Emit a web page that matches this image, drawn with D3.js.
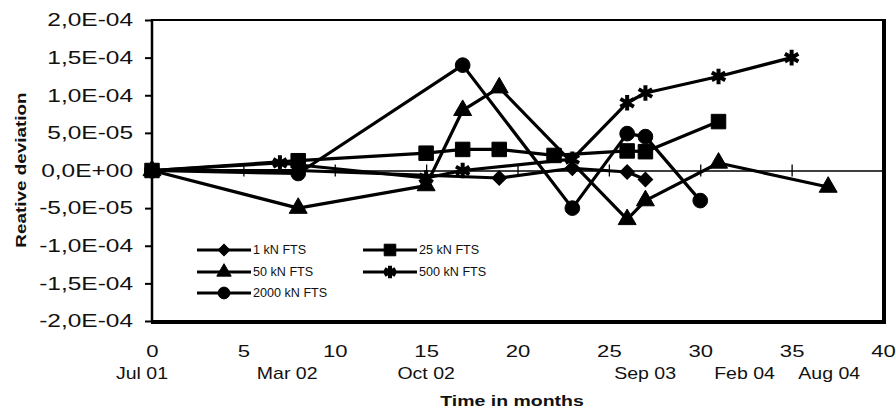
<!DOCTYPE html>
<html>
<head>
<meta charset="utf-8">
<script src="https://cdn.jsdelivr.net/npm/d3@7"></script>
<style>
  body { margin: 0; background: #fff; }
  svg { display: block; }
  text { font-family: "Liberation Sans", Arial, Helvetica, sans-serif; fill: #111; }
</style>
</head>
<body>
<svg id="chart" width="896" height="412"></svg>
<script>
// ---- data: relative deviation per force transfer standard ----
const seriesNames = ["1 kN FTS", "25 kN FTS", "50 kN FTS", "500 kN FTS", "2000 kN FTS"];

const months1kN = [0, 8, 19, 23, 26, 27];
const dev1kN    = [0, 0, -1.0e-5, 0.3e-5, -0.2e-5, -1.2e-5];

const months25kN = [0, 8, 15, 17, 19, 22, 26, 27, 31];
const dev25kN    = [0, 1.3e-5, 2.3e-5, 2.8e-5, 2.8e-5, 2.0e-5, 2.6e-5, 2.5e-5, 6.5e-5];

const months50kN = [0, 8, 15, 17, 19, 26, 27, 31, 37];
const dev50kN    = [0, -5.0e-5, -2.0e-5, 8.0e-5, 1.1e-4, -6.5e-5, -4.0e-5, 1.0e-5, -2.2e-5];

const months500kN = [0, 7, 15, 17, 23, 26, 27, 31, 35];
const dev500kN    = [0, 1.0e-5, -1.0e-5, 0, 1.5e-5, 9.0e-5, 1.03e-4, 1.25e-4, 1.5e-4];

const months2000kN = [0, 8, 17, 23, 26, 27, 30];
const dev2000kN    = [0, -0.4e-5, 1.4e-4, -5.0e-5, 4.9e-5, 4.5e-5, -4.0e-5];

const monthTicks = [0, 5, 10, 15, 20, 25, 30, 35, 40];
const devTicks = [-2e-4, -1.5e-4, -1e-4, -5e-5, 0, 5e-5, 1e-4, 1.5e-4, 2e-4];
const dateLabels = ["Jul 01", "Mar 02", "Oct 02", "Sep 03", "Feb 04", "Aug 04"];
const dateLabelMonths = [0, 8, 15, 26, 31, 37];

// ---- layout ----
const svg = d3.select("#chart");
const plotLeft = 152, plotRight = 883, plotTop = 20, plotBottom = 321;
const widen = 1.3; // horizontal stretch of the lettering

const x = d3.scaleLinear().domain([0, 40]).range([plotLeft, plotRight]);
const y = d3.scaleLinear().domain([-2e-4, 2e-4]).range([plotBottom, plotTop]);

function sciComma(v) {
  const s = d3.format(".1e")(v).replace("\u2212", "-");
  const [m, e] = s.split("e");
  const sign = e[0] === "-" ? "-" : "+";
  const digits = e.replace(/[+-]/, "").padStart(2, "0");
  return m.replace(".", ",") + "E" + sign + digits;
}

function stretchText(sel, k) {
  sel.each(function () {
    const t = d3.select(this);
    const tx = +t.attr("x") || 0;
    t.attr("x", tx / k).attr("transform", `scale(${k},1)`);
  });
}

// y axis with outward ticks
const yAxis = svg.append("g")
  .attr("transform", `translate(${plotLeft},0)`)
  .call(d3.axisLeft(y).tickValues(devTicks).tickSize(7).tickPadding(12).tickFormat(sciComma));
yAxis.select(".domain").remove();
yAxis.selectAll(".tick line").attr("stroke", "#000").attr("stroke-width", 2);
yAxis.selectAll(".tick text").attr("font-size", 18).attr("fill", "#111");
stretchText(yAxis.selectAll(".tick text"), 1.36);

// zero line acting as the x axis, ticks crossing it
const zeroAxis = svg.append("g")
  .attr("transform", `translate(0,${y(0)})`)
  .call(d3.axisBottom(x).tickValues(monthTicks.filter(d => d > 0 && d < 40)).tickSize(6).tickFormat(""));
zeroAxis.select(".domain").attr("stroke", "#000").attr("stroke-width", 1.3);
zeroAxis.selectAll(".tick line").attr("y1", -6).attr("y2", 6).attr("stroke", "#000").attr("stroke-width", 1.3);

// month numbers below the plot
const monthAxis = svg.append("g")
  .attr("transform", `translate(0,${plotBottom})`)
  .call(d3.axisBottom(x).tickValues(monthTicks).tickSize(0).tickPadding(24).tickFormat(d3.format("d")));
monthAxis.select(".domain").remove();
monthAxis.selectAll(".tick text").attr("font-size", 17).attr("fill", "#111");
stretchText(monthAxis.selectAll(".tick text"), widen);

// calendar dates under the month numbers
const dateNudge = [-10, -11, 0, 18, 26, 1];
svg.append("g").selectAll("text")
  .data(dateLabels)
  .join("text")
  .attr("transform", (d, i) => `translate(${x(dateLabelMonths[i]) + dateNudge[i]},373) scale(1.22,1)`)
  .attr("text-anchor", "middle")
  .attr("dy", "0.35em")
  .attr("font-size", 16)
  .text(d => d);

// axis titles
svg.append("text")
  .attr("transform", `translate(512,401) scale(${widen},1)`)
  .attr("text-anchor", "middle").attr("dy", "0.35em")
  .attr("font-size", 15).attr("font-weight", "bold")
  .text("Time in months");

svg.append("text")
  .attr("transform", `translate(21,170) rotate(-90) scale(1.26,1)`)
  .attr("text-anchor", "middle").attr("dy", "0.35em")
  .attr("font-size", 15).attr("font-weight", "bold")
  .text("Reative deviation");

// plot frame (heavier right and bottom edges)
const frame = svg.append("g").attr("stroke", "#000").attr("fill", "none");
frame.append("line").attr("x1", plotLeft).attr("x2", plotRight + 2).attr("y1", plotTop).attr("y2", plotTop).attr("stroke-width", 2);
frame.append("line").attr("x1", plotLeft).attr("x2", plotLeft).attr("y1", plotTop - 1).attr("y2", plotBottom + 1).attr("stroke-width", 2.5);
frame.append("line").attr("x1", plotRight + 1).attr("x2", plotRight + 1).attr("y1", plotTop - 1).attr("y2", plotBottom + 2).attr("stroke-width", 4);
frame.append("line").attr("x1", plotLeft - 1).attr("x2", plotRight + 3).attr("y1", plotBottom + 1).attr("y2", plotBottom + 1).attr("stroke-width", 4);

// ---- series ----
// the diamond is a square turned by 45 degrees
const series = [
  { name: seriesNames[0], months: months1kN, devs: dev1kN, symbol: d3.symbolSquare, size: 105, rotate: 45, stroke: false },
  { name: seriesNames[1], months: months25kN, devs: dev25kN, symbol: d3.symbolSquare, size: 210, rotate: 0, stroke: false },
  { name: seriesNames[2], months: months50kN, devs: dev50kN, symbol: d3.symbolTriangle, size: 140, rotate: 0, stroke: false },
  { name: seriesNames[3], months: months500kN, devs: dev500kN, symbol: d3.symbolAsterisk, size: 170, rotate: 0, stroke: true },
  { name: seriesNames[4], months: months2000kN, devs: dev2000kN, symbol: d3.symbolCircle, size: 170, rotate: 0, stroke: false }
];

const line = d3.line().x(d => x(d[0])).y(d => y(d[1]));

function drawMarker(g, s, scale) {
  const p = d3.symbol().type(s.symbol).size(s.size * scale * scale)();
  const m = g.append("path").attr("d", p).attr("transform", `rotate(${s.rotate})`);
  if (s.stroke) {
    m.attr("fill", "none").attr("stroke", "#000").attr("stroke-width", 4);
  } else {
    m.attr("fill", "#000").attr("stroke", "#000").attr("stroke-width", 1);
  }
  return m;
}

const plot = svg.append("g");
series.forEach(s => {
  const pts = s.months.map((m, i) => [m, s.devs[i]]);
  const g = plot.append("g");
  g.append("path")
    .attr("d", line(pts))
    .attr("fill", "none")
    .attr("stroke", "#000")
    .attr("stroke-width", 3.2)
    .attr("stroke-linejoin", "round");
  pts.forEach(pt => {
    const mg = g.append("g").attr("transform", `translate(${x(pt[0])},${y(pt[1])})`);
    drawMarker(mg, s, 1);
  });
});

// ---- legend ----
const legendCols = [197, 363];
const legendRows = [250, 272, 293];
const legend = svg.append("g");
series.forEach((s, i) => {
  const lx = legendCols[i % 2];
  const ly = legendRows[Math.floor(i / 2)];
  const item = legend.append("g").attr("transform", `translate(${lx},${ly})`);
  item.append("line").attr("x1", 0).attr("x2", 54).attr("y1", 0).attr("y2", 0)
    .attr("stroke", "#000").attr("stroke-width", 3.2);
  const mg = item.append("g").attr("transform", "translate(27,0)");
  drawMarker(mg, s, 0.8);
  item.append("text")
    .attr("transform", "translate(56,0) scale(1.05,1)")
    .attr("dy", "0.35em")
    .attr("font-size", 12)
    .attr("fill", "#222")
    .text(s.name);
});
</script>
</body>
</html>
